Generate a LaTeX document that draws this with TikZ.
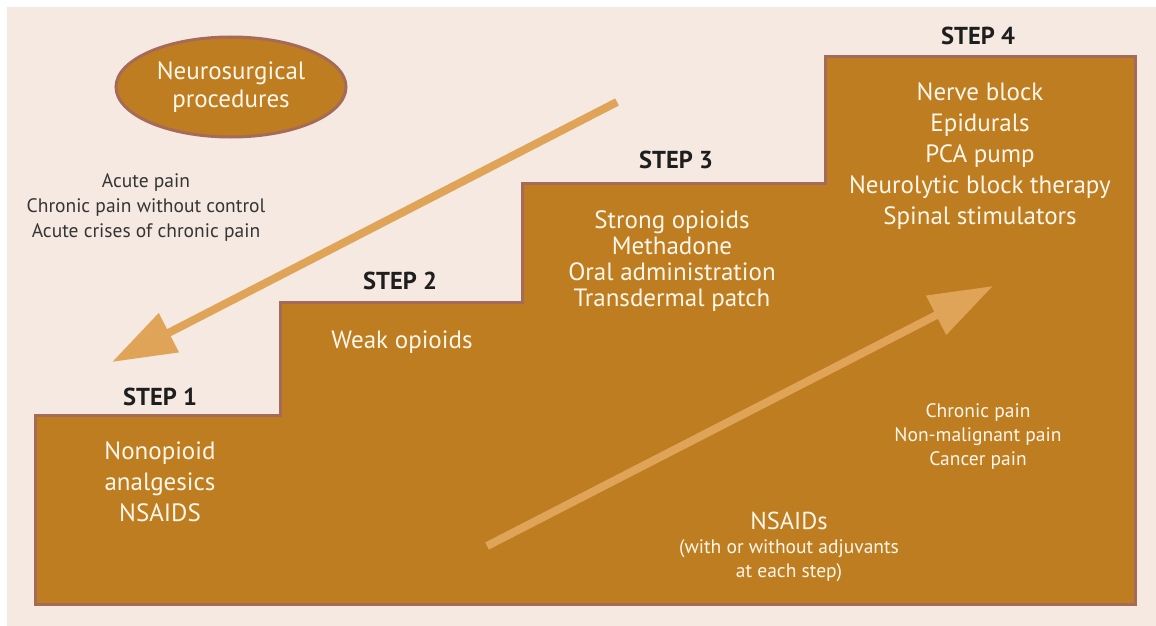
\documentclass[tikz,border=0pt]{standalone}
\usepackage{fontspec}
\setmainfont{PT Sans}
\usetikzlibrary{arrows.meta,shapes.geometric}

\definecolor{pagebg}{RGB}{245,233,225}
\definecolor{stairfill}{RGB}{190,125,32}
\definecolor{stairedge}{RGB}{166,107,88}
\definecolor{arrowtan}{RGB}{224,164,88}
\definecolor{lighttext}{RGB}{255,247,235}
\definecolor{darktext}{RGB}{30,30,30}

\tikzset{
  stepshape/.style={fill=stairfill, draw=stairedge, line width=3pt, line join=miter},
  steplabel/.style={font=\fontsize{24.5}{26}\selectfont\bfseries, text=darktext, inner sep=0pt},
  inlist/.style={font=\fontsize{25}{31}\selectfont, text=lighttext, align=center, inner sep=0pt},
  tightlist/.style={font=\fontsize{25}{26}\selectfont, text=lighttext, align=center, inner sep=0pt},
  outnote/.style={font=\fontsize{19.5}{25}\selectfont, text=darktext!90, align=center, inner sep=0pt},
  smallnote/.style={font=\fontsize{19.5}{24}\selectfont, text=lighttext, align=center, inner sep=0pt},
  bigarrow/.style={draw=arrowtan, line width=8pt,
    -{Triangle[length=64pt, width=42pt]}, fill=arrowtan},
}

\begin{document}
\begin{tikzpicture}[x=1pt, y=-1pt]
  \useasboundingbox (0,0) rectangle (1156,626);
  \fill[white] (0,0) rectangle (1156,626);
  \fill[pagebg] (7,7) rectangle (1156,626);

  % staircase
  \draw[stepshape] (35,604) -- (35,415) -- (280,415) -- (280,302) -- (522,302)
    -- (522,183) -- (825,183) -- (825,57) -- (1135,57) -- (1135,604) -- cycle;

  % surgical option
  \node[ellipse, fill=stairfill, draw=stairedge, line width=3pt,
        minimum width=230pt, minimum height=100pt, inner sep=0pt,
        font=\fontsize{25}{28}\selectfont, text=lighttext, align=center]
        (surg) at (231,87) {Neurosurgical\\procedures};

  % step titles
  \node[steplabel] (s1) at (160,397) {STEP 1};
  \node[steplabel] (s2) at (400,281) {STEP 2};
  \node[steplabel] (s3) at (676,160) {STEP 3};
  \node[steplabel] (s4) at (978,36) {STEP 4};

  % treatments on each step
  \node[inlist] (t1) at (160,482) {Nonopioid\\analgesics\\NSAIDS};
  \node[inlist] (t2) at (402,342) {Weak opioids};
  \node[tightlist] (t3) at (672,261) {Strong opioids\\Methadone\\Oral administration\\Transdermal patch};
  \node[inlist] (t4) at (980,156) {Nerve block\\Epidurals\\PCA pump\\Neurolytic block therapy\\Spinal stimulators};

  % indications
  \node[outnote] (down) at (146,208) {Acute pain\\Chronic pain without control\\Acute crises of chronic pain};
  \node[smallnote] (up) at (978,437) {Chronic pain\\Non-malignant pain\\Cancer pain};

  \node[font=\fontsize{24.5}{26}\selectfont, text=lighttext, inner sep=0pt] (ns) at (789,521) {NSAIDs};
  \node[smallnote] (adj) at (789,561) {(with or without adjuvants\\at each step)};

  % direction arrows
  \coordinate (dTail) at (617,102);
  \coordinate (dTip) at (112,362);
  \coordinate (uTail) at (487,546);
  \coordinate (uTip) at (993,286);
  \draw[bigarrow] (dTail) -- (dTip);
  \draw[bigarrow] (uTail) -- (uTip);
\end{tikzpicture}
\end{document}
